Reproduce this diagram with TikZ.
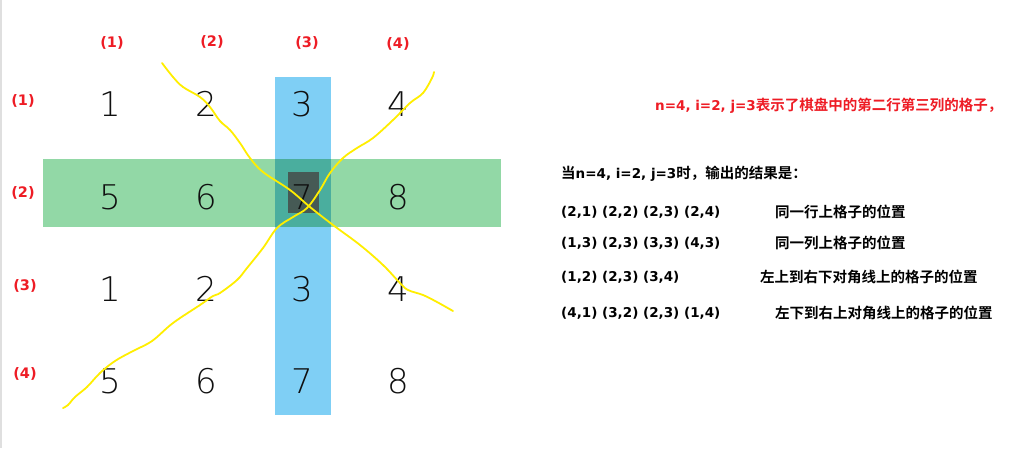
\documentclass[tikz,border=0pt]{standalone}
\usepackage{fontspec}
\newfontfamily\cjkb{Noto Sans CJK SC Bold}
\newfontfamily\latb{DejaVu Sans Bold}
\newfontfamily\digf{DejaVu Sans ExtraLight}
\newcommand\lt[1]{{\latb\fontsize{13.5}{15}\selectfont #1}}
\definecolor{lblred}{HTML}{EE1C25}
\definecolor{rowgreen}{HTML}{92D8A6}
\definecolor{colblue}{HTML}{7FCFF5}
\definecolor{overlap}{HTML}{4AAE9E}
\definecolor{darksq}{HTML}{465A55}
\definecolor{ylw}{HTML}{FFEE00}
\definecolor{numblack}{HTML}{101010}
\tikzset{
  lbl/.style={text=lblred,font=\latb\fontsize{14.5}{16}\selectfont,inner sep=0pt},
  num/.style={text=numblack,font=\digf\fontsize{34}{36}\selectfont,inner sep=0pt},
  txt/.style={anchor=west,inner sep=0pt,font=\cjkb\fontsize{14.5}{16}\selectfont},
  yline/.style={draw=ylw,line width=1.8pt,line cap=round,line join=round}
}
\begin{document}
\begin{tikzpicture}[x=1pt,y=-1pt]
\useasboundingbox (0,0) rectangle (1033,448);
\fill[white] (0,0) rectangle (1033,448);
\fill[gray!25] (0,0) rectangle (1.5,448);
% highlights
\fill[colblue] (275,77) rectangle (331,415);
\fill[rowgreen] (43,159) rectangle (501,227);
\fill[overlap] (275,159) rectangle (331,227);
\fill[darksq] (288,172) rectangle (319,213);
% column labels
\node[lbl] (c1) at (112,43) {(1)};
\node[lbl] (c2) at (212,42) {(2)};
\node[lbl] (c3) at (307,43) {(3)};
\node[lbl] (c4) at (398,44) {(4)};
% row labels
\node[lbl] (r1) at (23,101) {(1)};
\node[lbl] (r2) at (23,193) {(2)};
\node[lbl] (r3) at (25,286) {(3)};
\node[lbl] (r4) at (25,374) {(4)};
% numbers
\node[num] (n11) at (110,104) {1};
\node[num] (n12) at (206,104) {2};
\node[num] (n13) at (302,104) {3};
\node[num] (n14) at (398,104) {4};
\node[num] (n21) at (110,197) {5};
\node[num] (n22) at (206,197) {6};
\node[num] (n23) at (302,197) {7};
\node[num] (n24) at (398,197) {8};
\node[num] (n31) at (110,289) {1};
\node[num] (n32) at (206,289) {2};
\node[num] (n33) at (302,289) {3};
\node[num] (n34) at (398,289) {4};
\node[num] (n41) at (110,381) {5};
\node[num] (n42) at (206,381) {6};
\node[num] (n43) at (302,381) {7};
\node[num] (n44) at (398,381) {8};
% yellow freehand diagonals
\draw[yline] plot[smooth,tension=0.6] coordinates {(162,63) (173,77) (183,87) (200,97) (210,107) (220,121) (230,130) (240,143) (250,158) (263,172) (290,190) (310,207) (333,225) (360,245) (383,265) (400,283) (408,290) (423,295) (437,302) (453,311)};
\draw[yline] plot[smooth,tension=0.6] coordinates {(63,408) (68,405) (75,397) (87,387) (100,373) (115,361) (133,351) (152,341) (173,323) (200,305) (213,296) (220,293) (237,280) (247,268) (263,248) (277,228) (293,217) (307,208) (320,190) (330,173) (343,158) (357,148) (373,138) (393,120) (410,103) (423,93) (432,78) (434,72)};
% right text
\node[txt,text=lblred] (t0) at (655,106) {\lt{n=4, i=2, j=3}表示了棋盘中的第二行第三列的格子，};
\node[txt] (t1) at (561,174) {当\lt{n=4, i=2, j=3}时，输出的结果是：};
\node[txt] (a1) at (561,212) {\lt{(2,1) (2,2) (2,3) (2,4)}};
\node[txt] (b1) at (775,212) {同一行上格子的位置};
\node[txt] (a2) at (561,243) {\lt{(1,3) (2,3) (3,3) (4,3)}};
\node[txt] (b2) at (775,243) {同一列上格子的位置};
\node[txt] (a3) at (561,277) {\lt{(1,2) (2,3) (3,4)}};
\node[txt] (b3) at (760,277) {左上到右下对角线上的格子的位置};
\node[txt] (a4) at (561,313) {\lt{(4,1) (3,2) (2,3) (1,4)}};
\node[txt] (b4) at (775,313) {左下到右上对角线上的格子的位置};
\end{tikzpicture}
\end{document}
